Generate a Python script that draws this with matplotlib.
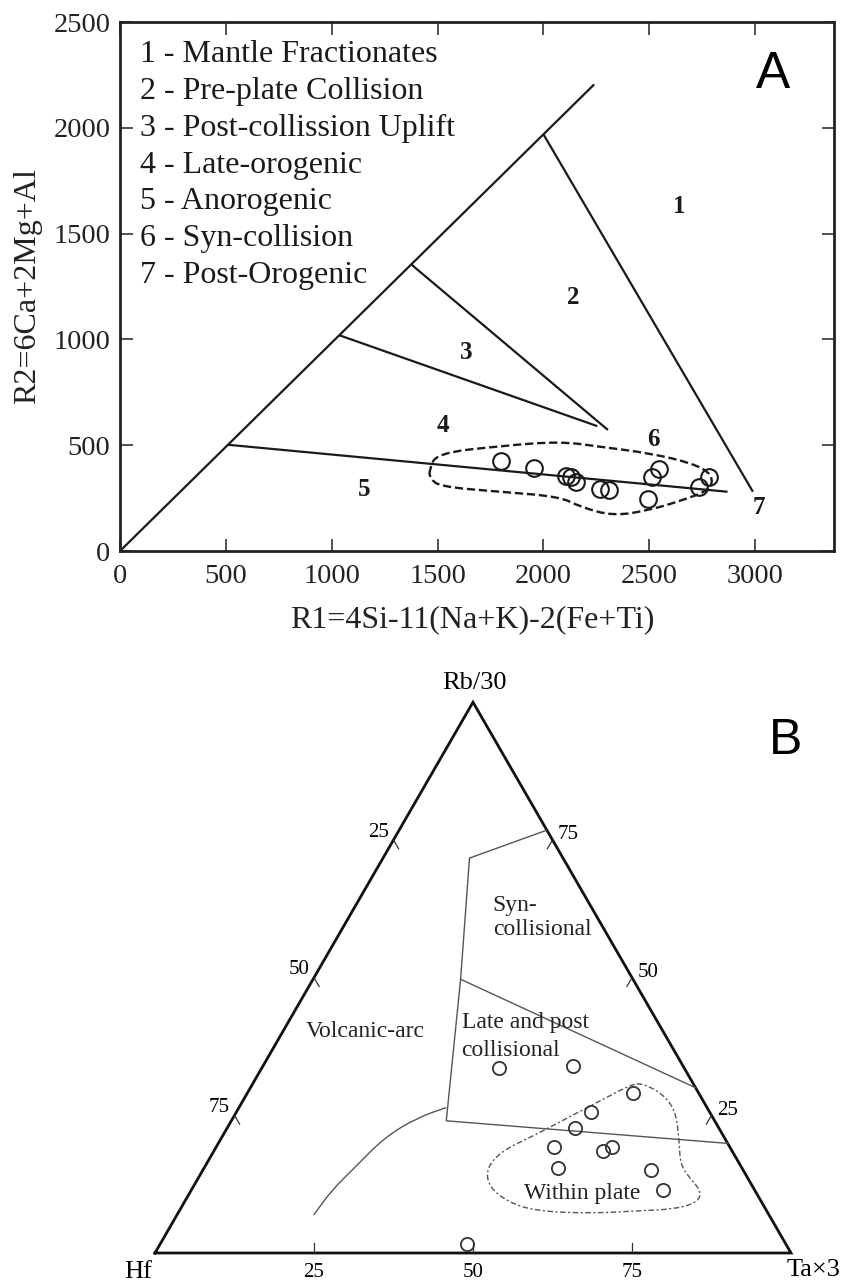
import numpy as np
import matplotlib.pyplot as plt
from matplotlib.path import Path
from matplotlib.patches import PathPatch

plt.rcParams['font.family'] = ['Liberation Serif', 'DejaVu Serif']

# ---- panel A : R1-R2 diagram ----
r1 = [1798, 1956, 2105, 2129, 2153, 2267, 2311, 2512, 2547, 2496, 2735, 2784]
r2 = [427, 394, 354, 348, 327, 293, 288, 351, 388, 246, 304, 351]

# field boundaries (start, end) in R1/R2 units
bound_r1 = [[0, 2240], [2000, 2990], [1375, 2305], [1035, 2255], [510, 2870]]
bound_r2 = [[0, 2205], [1970, 280], [1355, 572], [1020, 590], [502, 280]]

field_names = ['1 - Mantle Fractionates', '2 - Pre-plate Collision', '3 - Post-collission Uplift',
               '4 - Late-orogenic', '5 - Anorogenic', '6 - Syn-collision', '7 - Post-Orogenic']
field_num = ['1', '2', '3', '4', '5', '6', '7']
field_num_r1 = [2640, 2140, 1634, 1526, 1152, 2522, 3018]
field_num_r2 = [1630, 1196, 940, 591, 293, 525, 205]

# envelope around the samples
env_a_r1 = [1461, 1496, 1795, 2078, 2267, 2503, 2708, 2800, 2790, 2661, 2504, 2330, 2173, 2078, 1795, 1512, 1464]
env_a_r2 = [383, 462, 496, 518, 493, 462, 414, 360, 290, 241, 194, 165, 209, 257, 280, 304, 344]

# ---- panel B : Rb/30 - Hf - Ta*3 ternary ----
hf = [29.2, 17.3, 10.3, 18.7, 22.6, 27.7, 20.2, 18.5, 28.9, 14.5, 14.4, 50.2]
ta = [37.3, 48.7, 60.7, 55.7, 54.7, 53.1, 61.2, 62.2, 55.7, 70.5, 74.1, 48.2]
rb = [33.5, 34.0, 29.0, 25.6, 22.7, 19.2, 18.6, 19.3, 15.4, 15.0, 11.5, 1.6]

# field boundaries as (Ta, Rb) percentages
syn_ta = [23.1, 13.6, 23.2, 33.8, 80.1]
syn_rb = [76.7, 71.7, 49.7, 24.0, 19.9]
late_ta = [23.2, 70.0]
late_rb = [49.7, 30.0]
arc_ta = [32.6, 29.0, 25.6, 23.6, 22.1, 21.5]
arc_rb = [26.4, 24.6, 21.0, 15.4, 11.4, 6.9]
wp_ta = [61.2, 65.2, 68.9, 72.1, 74.5, 76.9, 80.2, 80.8, 78.0, 71.4, 64.8, 56.2, 51.0, 46.5, 44.4, 45.3, 48.8, 52.9, 56.5, 59.6]
wp_rb = [30.8, 29.0, 25.9, 20.6, 16.2, 13.9, 11.3, 9.3, 8.0, 7.6, 7.2, 7.6, 9.2, 12.0, 15.4, 18.6, 21.2, 24.8, 27.9, 30.6]
tick_vals = [25, 50, 75]


def smooth_path(xs, ys, closed=True):
    pts = np.column_stack([xs, ys]).astype(float)
    if closed:
        mids = (pts + np.roll(pts, -1, axis=0)) / 2
        verts = [mids[-1]]
        codes = [Path.MOVETO]
        for i in range(len(pts)):
            verts += [pts[i], mids[i]]
            codes += [Path.CURVE3, Path.CURVE3]
    else:
        mids = (pts[:-1] + pts[1:]) / 2
        verts = [pts[0], mids[0]]
        codes = [Path.MOVETO, Path.LINETO]
        for i in range(1, len(pts) - 1):
            verts += [pts[i], mids[i]]
            codes += [Path.CURVE3, Path.CURVE3]
        verts.append(pts[-1])
        codes.append(Path.LINETO)
    return Path(verts, codes)


def tern(t, r):
    t = np.asarray(t, float)
    r = np.asarray(r, float)
    return t / 100 + r / 200, r / 100 * np.sqrt(3) / 2


fig = plt.figure(figsize=(8.42, 12.84), dpi=100)

# ================= panel A =================
axA = fig.add_axes([120 / 842, 1 - 551 / 1284, 714 / 842, 529 / 1284])
axA.set_xlim(0, 3373)
axA.set_ylim(0, 2500)
axA.set_xticks(range(0, 3001, 500))
axA.set_yticks(range(0, 2501, 500))
axA.tick_params(direction='in', length=9, width=1.1, top=True, right=True, labelsize=20.5, colors='#222222')
axA.tick_params(axis='x', pad=9)
axA.tick_params(axis='y', pad=7)
for s in axA.spines.values():
    s.set_linewidth(2.0)
    s.set_color('#222222')

for xs, ys in zip(bound_r1, bound_r2):
    axA.plot(xs, ys, color='#1a1a1a', lw=1.6, solid_capstyle='butt')

axA.add_patch(PathPatch(smooth_path(env_a_r1, env_a_r2), fill=False, ec='#1a1a1a',
                        lw=1.7, ls=(0, (3.5, 1.6))))
axA.plot(r1, r2, 'o', ms=12, mfc='none', mec='#1a1a1a', mew=1.5)

for t, x, y in zip(field_num, field_num_r1, field_num_r2):
    axA.text(x, y, t, fontsize=18, fontweight='bold', ha='center', va='center', color='#1a1a1a')

for i, name in enumerate(field_names):
    axA.text(0.028, (551 - 55 - i * 36.67) / 529, name, transform=axA.transAxes,
             fontsize=23, ha='left', va='center', color='#1a1a1a')

axA.text(3084, 2254, 'A', fontsize=37, family='Liberation Sans', ha='center', va='center')

axA.set_xlabel('R1=4Si-11(Na+K)-2(Fe+Ti)', fontsize=23, va='center', color='#222222')
axA.xaxis.set_label_coords(0.494, -0.1304)
axA.set_ylabel('R2=6Ca+2Mg+Al', fontsize=23, va='center', color='#222222')
axA.yaxis.set_label_coords(-0.129, 0.5)

# ================= panel B =================
h = np.sqrt(3) / 2
axB = fig.add_axes([155 / 842, 31 / 1284, 636 / 842, 636 * h / 1284])
axB.set_xlim(0, 1)
axB.set_ylim(0, h)
axB.axis('off')

axB.plot([0, 1, 0.5, 0], [0, 0, h, 0], color='#111111', lw=2.0, clip_on=False, solid_joinstyle='miter')

gray = '#555555'
x, y = tern(syn_ta, syn_rb)
axB.plot(x, y, color=gray, lw=1.0)
x, y = tern(late_ta, late_rb)
axB.plot(x, y, color=gray, lw=1.0)
x, y = tern(arc_ta, arc_rb)
axB.add_patch(PathPatch(smooth_path(x, y, closed=False), fill=False, ec=gray, lw=1.0))
x, y = tern(wp_ta, wp_rb)
axB.add_patch(PathPatch(smooth_path(x, y), fill=False, ec=gray, lw=1.0, ls=(0, (4, 1.8, 1.5, 1.8))))

x, y = tern(ta, rb)
axB.plot(x, y, 'o', ms=9.5, mfc='none', mec='#333333', mew=1.3, clip_on=False)

# ticks and tick labels
L = 0.016
for v in tick_vals:
    # base (Ta*3)
    bx, by = tern(v, 0)
    axB.plot([bx, bx], [by, by + L], color='#333333', lw=0.9)
    axB.text(bx, -0.031, str(v), fontsize=15, ha='center', va='center')
    # left side (Hf)
    lx, ly = tern(0, 100 - v)
    axB.plot([lx, lx + 0.5 * L], [ly, ly - h * L], color='#333333', lw=0.9)
    axB.text(lx - 0.024, ly + 0.012, str(v), fontsize=15, ha='center', va='center')
    # right side (Rb/30)
    rx, ry = tern(100 - v, v)
    axB.plot([rx, rx - 0.5 * L], [ry, ry - h * L], color='#333333', lw=0.9)
    axB.text(rx + 0.025, ry + 0.008, str(v), fontsize=15, ha='center', va='center')

axB.text(0.503, 0.896, 'Rb/30', fontsize=19, ha='center', va='center', clip_on=False)
axB.text(-0.027, -0.030, 'Hf', fontsize=19, ha='center', va='center')
axB.text(1.035, -0.027, 'Ta\u00d73', fontsize=19, ha='center', va='center')

axB.text(0.530, 0.546, 'Syn-', fontsize=17, ha='left', va='center', color='#222222')
axB.text(0.532, 0.509, 'collisional', fontsize=17, ha='left', va='center', color='#222222')
axB.text(0.330, 0.349, 'Volcanic-arc', fontsize=17, ha='center', va='center', color='#222222')
axB.text(0.482, 0.362, 'Late and post', fontsize=17, ha='left', va='center', color='#222222')
axB.text(0.482, 0.319, 'collisional', fontsize=17, ha='left', va='center', color='#222222')
axB.text(0.671, 0.094, 'Within plate', fontsize=17, ha='center', va='center', color='#222222')
axB.text(0.992, 0.805, 'B', fontsize=36, family='Liberation Sans', ha='center', va='center')

fig.savefig('out.png', dpi=100, facecolor='white')
